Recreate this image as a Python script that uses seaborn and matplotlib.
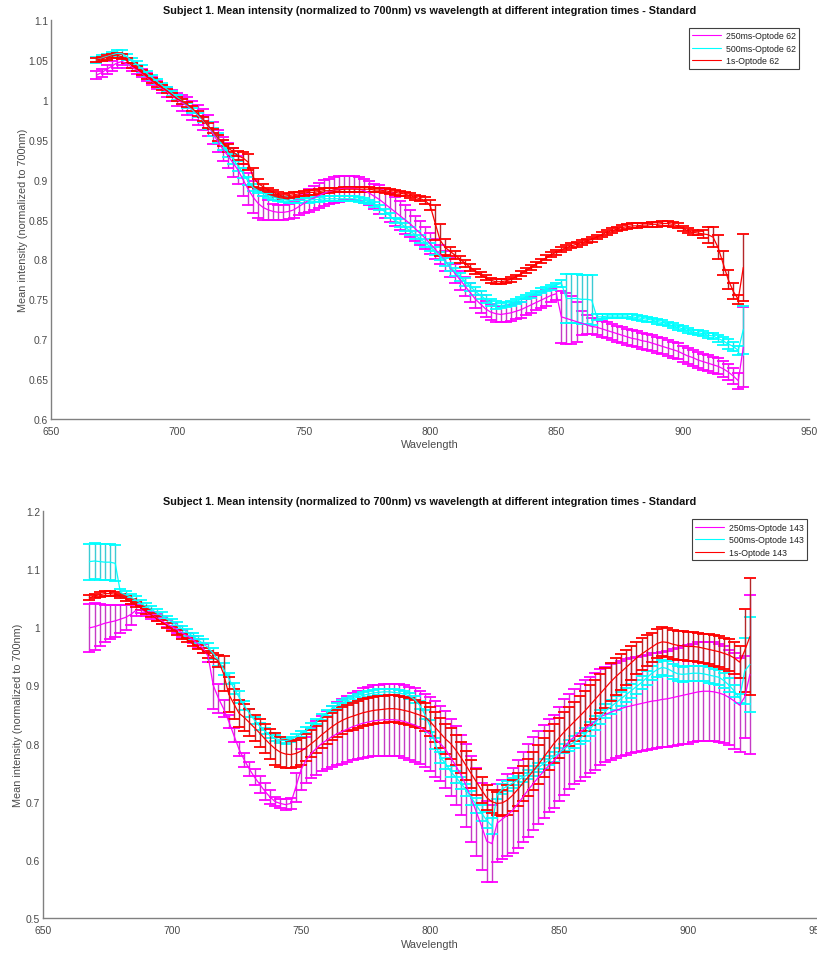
import numpy as np
import pandas as pd
import matplotlib
matplotlib.use("Agg")
import matplotlib.pyplot as plt
from matplotlib.ticker import FuncFormatter, MultipleLocator
from matplotlib.lines import Line2D
import seaborn as sns

# Spectrometer samples (nm), every 2 nm from 668 to 924
wavelength = np.arange(668, 925, 2)

series_keys = ["250ms", "500ms", "1s"]

# ---------------- Optode 62 ----------------
top_250ms_mean = [
    1.031, 1.034, 1.038, 1.042, 1.046, 1.048, 1.045, 1.041, 1.037, 1.033,
    1.028, 1.023, 1.018, 1.014, 1.010, 1.005, 1.000, 0.996, 0.992, 0.987,
    0.981, 0.975, 0.968, 0.958, 0.948, 0.938, 0.930, 0.921, 0.912, 0.900,
    0.888, 0.878, 0.870, 0.865, 0.862, 0.860, 0.859, 0.859, 0.860, 0.862,
    0.866, 0.870, 0.874, 0.877, 0.880, 0.883, 0.885, 0.887, 0.888, 0.889,
    0.889, 0.889, 0.888, 0.886, 0.883, 0.879, 0.875, 0.870, 0.865, 0.860,
    0.855, 0.850, 0.845, 0.839, 0.833, 0.827, 0.820, 0.813, 0.806, 0.798,
    0.790, 0.782, 0.774, 0.766, 0.758, 0.750, 0.744, 0.738, 0.734, 0.732,
    0.731, 0.732, 0.733, 0.735, 0.737, 0.740, 0.743, 0.746, 0.749, 0.752,
    0.755, 0.757, 0.728, 0.726, 0.724, 0.722, 0.720, 0.718, 0.716, 0.715,
    0.713, 0.711, 0.709, 0.707, 0.705, 0.703, 0.701, 0.700, 0.698, 0.697,
    0.695, 0.693, 0.691, 0.689, 0.687, 0.685, 0.682, 0.679, 0.677, 0.674,
    0.672, 0.670, 0.668, 0.666, 0.663, 0.659, 0.654, 0.648, 0.690,
]
top_250ms_err = [
    0.005, 0.005, 0.006, 0.006, 0.006, 0.005, 0.005, 0.005, 0.005, 0.005,
    0.005, 0.005, 0.005, 0.005, 0.006, 0.007, 0.008, 0.010, 0.011, 0.012,
    0.013, 0.013, 0.013, 0.014, 0.014, 0.015, 0.016, 0.018, 0.018, 0.020,
    0.020, 0.020, 0.018, 0.015, 0.012, 0.010, 0.009, 0.009, 0.009, 0.010,
    0.010, 0.012, 0.014, 0.015, 0.016, 0.016, 0.016, 0.016, 0.016, 0.015,
    0.015, 0.015, 0.015, 0.015, 0.015, 0.016, 0.018, 0.018, 0.018, 0.018,
    0.018, 0.018, 0.017, 0.016, 0.015, 0.014, 0.013, 0.012, 0.012, 0.012,
    0.012, 0.012, 0.012, 0.012, 0.012, 0.011, 0.011, 0.010, 0.010, 0.010,
    0.010, 0.010, 0.010, 0.010, 0.010, 0.010, 0.010, 0.010, 0.010, 0.010,
    0.008, 0.008, 0.033, 0.032, 0.030, 0.025, 0.015, 0.012, 0.010, 0.010,
    0.010, 0.010, 0.010, 0.010, 0.010, 0.010, 0.010, 0.010, 0.010, 0.010,
    0.010, 0.010, 0.010, 0.010, 0.010, 0.010, 0.010, 0.010, 0.010, 0.010,
    0.010, 0.010, 0.010, 0.010, 0.010, 0.010, 0.010, 0.010, 0.050,
]
top_500ms_mean = [
    1.050, 1.052, 1.054, 1.056, 1.058, 1.058, 1.054, 1.049, 1.044, 1.039,
    1.033, 1.028, 1.023, 1.018, 1.013, 1.008, 1.003, 0.998, 0.993, 0.987,
    0.981, 0.975, 0.968, 0.960, 0.952, 0.943, 0.934, 0.926, 0.917, 0.908,
    0.898, 0.890, 0.886, 0.883, 0.880, 0.878, 0.876, 0.875, 0.874, 0.874,
    0.874, 0.874, 0.874, 0.875, 0.875, 0.876, 0.876, 0.876, 0.876, 0.876,
    0.876, 0.876, 0.875, 0.874, 0.872, 0.869, 0.865, 0.860, 0.855, 0.849,
    0.846, 0.841, 0.836, 0.831, 0.826, 0.821, 0.816, 0.810, 0.804, 0.797,
    0.791, 0.784, 0.778, 0.772, 0.766, 0.760, 0.755, 0.750, 0.746, 0.743,
    0.742, 0.743, 0.745, 0.747, 0.750, 0.753, 0.755, 0.758, 0.761, 0.763,
    0.765, 0.768, 0.770, 0.751, 0.751, 0.751, 0.750, 0.750, 0.749, 0.728,
    0.728, 0.729, 0.729, 0.729, 0.729, 0.729, 0.728, 0.727, 0.726, 0.725,
    0.724, 0.722, 0.721, 0.719, 0.717, 0.715, 0.713, 0.711, 0.709, 0.708,
    0.707, 0.705, 0.704, 0.701, 0.698, 0.694, 0.691, 0.686, 0.712,
]
top_500ms_err = [
    0.004, 0.004, 0.004, 0.004, 0.004, 0.004, 0.004, 0.004, 0.004, 0.004,
    0.003, 0.003, 0.003, 0.003, 0.003, 0.003, 0.003, 0.003, 0.003, 0.003,
    0.003, 0.003, 0.004, 0.005, 0.006, 0.006, 0.006, 0.006, 0.006, 0.006,
    0.005, 0.004, 0.003, 0.003, 0.003, 0.003, 0.003, 0.003, 0.003, 0.003,
    0.003, 0.003, 0.003, 0.003, 0.003, 0.003, 0.003, 0.003, 0.003, 0.003,
    0.003, 0.003, 0.003, 0.003, 0.003, 0.003, 0.003, 0.003, 0.003, 0.003,
    0.005, 0.005, 0.005, 0.005, 0.005, 0.005, 0.005, 0.005, 0.005, 0.005,
    0.005, 0.005, 0.005, 0.005, 0.005, 0.005, 0.005, 0.005, 0.005, 0.005,
    0.003, 0.003, 0.003, 0.003, 0.003, 0.003, 0.003, 0.003, 0.003, 0.003,
    0.003, 0.003, 0.004, 0.031, 0.031, 0.031, 0.031, 0.031, 0.031, 0.004,
    0.003, 0.003, 0.003, 0.003, 0.003, 0.003, 0.003, 0.003, 0.003, 0.003,
    0.003, 0.003, 0.003, 0.003, 0.003, 0.003, 0.003, 0.003, 0.003, 0.003,
    0.003, 0.003, 0.004, 0.004, 0.005, 0.006, 0.006, 0.006, 0.030,
]
top_1s_mean = [
    1.050, 1.051, 1.053, 1.055, 1.056, 1.054, 1.049, 1.043, 1.039, 1.034,
    1.029, 1.024, 1.019, 1.015, 1.011, 1.006, 1.001, 0.998, 0.994, 0.989,
    0.983, 0.976, 0.968, 0.961, 0.952, 0.946, 0.940, 0.935, 0.930, 0.927,
    0.922, 0.903, 0.895, 0.891, 0.887, 0.884, 0.881, 0.879, 0.880, 0.881,
    0.882, 0.883, 0.884, 0.884, 0.885, 0.886, 0.886, 0.887, 0.887, 0.888,
    0.888, 0.888, 0.888, 0.888, 0.888, 0.887, 0.887, 0.886, 0.885, 0.884,
    0.883, 0.882, 0.880, 0.878, 0.876, 0.874, 0.868, 0.846, 0.824, 0.815,
    0.810, 0.805, 0.800, 0.795, 0.790, 0.785, 0.781, 0.777, 0.774, 0.772,
    0.772, 0.773, 0.775, 0.778, 0.782, 0.786, 0.790, 0.794, 0.798, 0.802,
    0.806, 0.809, 0.812, 0.815, 0.817, 0.819, 0.821, 0.823, 0.825, 0.828,
    0.831, 0.834, 0.836, 0.838, 0.840, 0.841, 0.842, 0.842, 0.843, 0.843,
    0.844, 0.844, 0.845, 0.845, 0.844, 0.842, 0.839, 0.836, 0.834, 0.833,
    0.832, 0.831, 0.828, 0.815, 0.795, 0.775, 0.760, 0.750, 0.790,
]
top_1s_err = [
    0.003, 0.003, 0.003, 0.003, 0.003, 0.003, 0.003, 0.003, 0.003, 0.003,
    0.003, 0.003, 0.003, 0.003, 0.003, 0.003, 0.003, 0.003, 0.003, 0.003,
    0.003, 0.003, 0.003, 0.003, 0.004, 0.004, 0.005, 0.005, 0.006, 0.007,
    0.010, 0.012, 0.006, 0.004, 0.003, 0.003, 0.003, 0.003, 0.003, 0.003,
    0.003, 0.003, 0.003, 0.003, 0.003, 0.003, 0.003, 0.003, 0.003, 0.003,
    0.003, 0.003, 0.003, 0.003, 0.003, 0.003, 0.003, 0.003, 0.003, 0.003,
    0.003, 0.003, 0.003, 0.003, 0.003, 0.004, 0.006, 0.022, 0.020, 0.010,
    0.006, 0.005, 0.004, 0.004, 0.004, 0.003, 0.003, 0.003, 0.003, 0.003,
    0.003, 0.003, 0.003, 0.003, 0.003, 0.003, 0.003, 0.003, 0.003, 0.003,
    0.003, 0.003, 0.003, 0.003, 0.003, 0.003, 0.003, 0.003, 0.003, 0.003,
    0.003, 0.003, 0.003, 0.003, 0.003, 0.003, 0.003, 0.003, 0.003, 0.003,
    0.003, 0.003, 0.003, 0.003, 0.003, 0.003, 0.003, 0.003, 0.003, 0.003,
    0.005, 0.010, 0.012, 0.015, 0.015, 0.012, 0.010, 0.006, 0.042,
]

# ---------------- Optode 143 ----------------
bot_250ms_mean = [
    0.999, 1.001, 1.004, 1.007, 1.009, 1.011, 1.014, 1.017, 1.022, 1.029,
    1.030, 1.026, 1.021, 1.016, 1.011, 1.006, 1.001, 0.996, 0.990, 0.985,
    0.979, 0.972, 0.964, 0.950, 0.900, 0.878, 0.860, 0.838, 0.814, 0.790,
    0.772, 0.756, 0.742, 0.730, 0.718, 0.708, 0.700, 0.697, 0.695, 0.697,
    0.725, 0.755, 0.772, 0.783, 0.792, 0.800, 0.806, 0.812, 0.817, 0.821,
    0.825, 0.829, 0.832, 0.835, 0.837, 0.839, 0.840, 0.841, 0.841, 0.841,
    0.840, 0.838, 0.835, 0.832, 0.828, 0.823, 0.816, 0.808, 0.800, 0.790,
    0.776, 0.762, 0.746, 0.728, 0.705, 0.682, 0.658, 0.632, 0.628, 0.663,
    0.670, 0.677, 0.685, 0.696, 0.708, 0.720, 0.731, 0.742, 0.752, 0.762,
    0.770, 0.782, 0.794, 0.804, 0.812, 0.819, 0.826, 0.832, 0.838, 0.846,
    0.850, 0.854, 0.857, 0.860, 0.863, 0.865, 0.867, 0.869, 0.871, 0.873,
    0.874, 0.876, 0.877, 0.879, 0.881, 0.883, 0.885, 0.887, 0.889, 0.890,
    0.890, 0.889, 0.887, 0.884, 0.879, 0.873, 0.866, 0.880, 0.919,
]
bot_250ms_err = [
    0.041, 0.040, 0.036, 0.032, 0.030, 0.028, 0.024, 0.021, 0.018, 0.010,
    0.006, 0.006, 0.006, 0.006, 0.006, 0.006, 0.006, 0.006, 0.006, 0.006,
    0.006, 0.007, 0.008, 0.010, 0.040, 0.025, 0.015, 0.012, 0.012, 0.012,
    0.012, 0.012, 0.014, 0.015, 0.015, 0.012, 0.008, 0.008, 0.010, 0.010,
    0.025, 0.035, 0.040, 0.043, 0.046, 0.048, 0.050, 0.052, 0.054, 0.056,
    0.057, 0.058, 0.059, 0.060, 0.060, 0.061, 0.061, 0.062, 0.062, 0.062,
    0.062, 0.062, 0.063, 0.063, 0.063, 0.063, 0.064, 0.065, 0.065, 0.066,
    0.067, 0.068, 0.069, 0.072, 0.074, 0.076, 0.075, 0.070, 0.066, 0.067,
    0.068, 0.070, 0.073, 0.076, 0.078, 0.080, 0.080, 0.080, 0.080, 0.080,
    0.080, 0.081, 0.082, 0.082, 0.082, 0.083, 0.083, 0.083, 0.083, 0.082,
    0.082, 0.082, 0.082, 0.082, 0.082, 0.082, 0.082, 0.082, 0.082, 0.082,
    0.082, 0.082, 0.083, 0.083, 0.084, 0.084, 0.085, 0.085, 0.085, 0.085,
    0.085, 0.085, 0.084, 0.083, 0.082, 0.082, 0.081, 0.071, 0.137,
]
bot_500ms_mean = [
    1.113, 1.114, 1.113, 1.112, 1.112, 1.110, 1.060, 1.056, 1.052, 1.047,
    1.041, 1.036, 1.031, 1.025, 1.020, 1.014, 1.009, 1.003, 0.997, 0.991,
    0.985, 0.979, 0.972, 0.965, 0.955, 0.943, 0.928, 0.912, 0.895, 0.880,
    0.865, 0.852, 0.840, 0.830, 0.821, 0.814, 0.809, 0.806, 0.805, 0.807,
    0.811, 0.817, 0.823, 0.830, 0.838, 0.846, 0.853, 0.860, 0.865, 0.870,
    0.874, 0.877, 0.880, 0.883, 0.885, 0.887, 0.888, 0.889, 0.889, 0.888,
    0.887, 0.885, 0.882, 0.876, 0.866, 0.850, 0.830, 0.800, 0.776, 0.766,
    0.752, 0.742, 0.732, 0.720, 0.707, 0.694, 0.680, 0.668, 0.658, 0.712,
    0.722, 0.727, 0.732, 0.737, 0.742, 0.747, 0.753, 0.759, 0.765, 0.771,
    0.777, 0.784, 0.791, 0.797, 0.803, 0.809, 0.816, 0.825, 0.835, 0.846,
    0.856, 0.863, 0.870, 0.877, 0.884, 0.891, 0.898, 0.905, 0.913, 0.921,
    0.927, 0.931, 0.929, 0.924, 0.920, 0.919, 0.920, 0.921, 0.921, 0.920,
    0.918, 0.916, 0.914, 0.908, 0.900, 0.890, 0.878, 0.925, 0.936,
]
bot_500ms_err = [
    0.031, 0.031, 0.031, 0.031, 0.031, 0.031, 0.006, 0.006, 0.006, 0.006,
    0.006, 0.006, 0.006, 0.006, 0.006, 0.006, 0.006, 0.006, 0.006, 0.006,
    0.006, 0.006, 0.007, 0.008, 0.009, 0.010, 0.010, 0.010, 0.010, 0.010,
    0.008, 0.007, 0.006, 0.006, 0.005, 0.005, 0.005, 0.005, 0.005, 0.005,
    0.005, 0.005, 0.005, 0.005, 0.005, 0.005, 0.005, 0.005, 0.005, 0.005,
    0.005, 0.005, 0.005, 0.005, 0.005, 0.005, 0.005, 0.005, 0.005, 0.005,
    0.005, 0.005, 0.005, 0.006, 0.007, 0.008, 0.010, 0.010, 0.010, 0.010,
    0.010, 0.010, 0.010, 0.011, 0.012, 0.013, 0.014, 0.014, 0.014, 0.008,
    0.008, 0.008, 0.008, 0.008, 0.008, 0.008, 0.008, 0.008, 0.008, 0.008,
    0.008, 0.008, 0.008, 0.009, 0.010, 0.010, 0.011, 0.012, 0.012, 0.012,
    0.012, 0.012, 0.012, 0.012, 0.012, 0.012, 0.012, 0.012, 0.012, 0.012,
    0.013, 0.013, 0.013, 0.013, 0.013, 0.013, 0.013, 0.013, 0.013, 0.013,
    0.013, 0.013, 0.013, 0.013, 0.012, 0.010, 0.008, 0.057, 0.081,
]
bot_1s_mean = [
    1.051, 1.054, 1.056, 1.058, 1.058, 1.057, 1.054, 1.050, 1.044, 1.039,
    1.033, 1.027, 1.021, 1.015, 1.009, 1.003, 0.997, 0.991, 0.984, 0.978,
    0.972, 0.966, 0.960, 0.954, 0.948, 0.942, 0.920, 0.885, 0.868, 0.852,
    0.845, 0.836, 0.827, 0.818, 0.808, 0.799, 0.791, 0.785, 0.782, 0.781,
    0.783, 0.787, 0.793, 0.800, 0.807, 0.815, 0.822, 0.829, 0.835, 0.840,
    0.844, 0.847, 0.850, 0.853, 0.855, 0.857, 0.858, 0.859, 0.860, 0.860,
    0.859, 0.857, 0.855, 0.852, 0.849, 0.846, 0.838, 0.828, 0.818, 0.808,
    0.800, 0.789, 0.776, 0.762, 0.748, 0.734, 0.720, 0.707, 0.700, 0.697,
    0.698, 0.703, 0.711, 0.721, 0.732, 0.742, 0.753, 0.764, 0.776, 0.788,
    0.800, 0.810, 0.820, 0.829, 0.838, 0.847, 0.856, 0.866, 0.876, 0.886,
    0.896, 0.906, 0.915, 0.923, 0.931, 0.939, 0.947, 0.954, 0.960, 0.966,
    0.972, 0.975, 0.974, 0.971, 0.969, 0.968, 0.967, 0.967, 0.966, 0.964,
    0.962, 0.960, 0.958, 0.955, 0.952, 0.947, 0.940, 0.960, 0.984,
]
bot_1s_err = [
    0.004, 0.004, 0.004, 0.004, 0.004, 0.004, 0.004, 0.004, 0.004, 0.004,
    0.004, 0.004, 0.004, 0.004, 0.004, 0.004, 0.004, 0.004, 0.004, 0.004,
    0.004, 0.004, 0.005, 0.006, 0.008, 0.010, 0.030, 0.030, 0.025, 0.023,
    0.023, 0.023, 0.023, 0.024, 0.025, 0.026, 0.027, 0.026, 0.024, 0.023,
    0.023, 0.023, 0.023, 0.023, 0.023, 0.023, 0.023, 0.023, 0.023, 0.023,
    0.023, 0.023, 0.023, 0.023, 0.023, 0.023, 0.023, 0.023, 0.023, 0.023,
    0.023, 0.023, 0.023, 0.023, 0.023, 0.024, 0.025, 0.026, 0.026, 0.026,
    0.026, 0.026, 0.026, 0.025, 0.024, 0.023, 0.022, 0.021, 0.020, 0.020,
    0.022, 0.025, 0.027, 0.029, 0.030, 0.032, 0.033, 0.033, 0.033, 0.034,
    0.034, 0.034, 0.034, 0.034, 0.034, 0.034, 0.034, 0.034, 0.034, 0.034,
    0.034, 0.033, 0.032, 0.031, 0.030, 0.029, 0.028, 0.027, 0.026, 0.025,
    0.025, 0.025, 0.025, 0.025, 0.025, 0.025, 0.025, 0.025, 0.025, 0.025,
    0.026, 0.026, 0.027, 0.027, 0.027, 0.027, 0.027, 0.072, 0.101,
]

title_text = ("Subject 1. Mean intensity (normalized to 700nm) vs wavelength "
              "at different integration times - Standard")
x_label = "Wavelength"
y_label = "Mean intensity (normalized to 700nm)"

# line colour for means/caps, slightly deeper tone for the vertical bars
line_colors = {"250ms": "#ff00ff", "500ms": "#00ffff", "1s": "#ff0000"}
bar_colors = {"250ms": "#c43cc4", "500ms": "#3ccbd4", "1s": "#b4282a"}

sns.set_style("white")
plt.rcParams["font.family"] = ["Liberation Sans", "DejaVu Sans"]

fig = plt.figure(figsize=(8.17, 9.54), dpi=100)
ax_top = fig.add_axes([51 / 817, 1 - 420 / 954, 758 / 817, 399 / 954])
ax_bot = fig.add_axes([43 / 817, 1 - 919 / 954, 774 / 817, 407 / 954])

axis_gray = "#808080"
text_gray = "#4a4a4a"


def draw_panel(ax, optode, data, ylim, ystep, ylab_x, xlab_y):
    for key, mean, err in data:
        mean = np.asarray(mean)
        err = np.asarray(err)
        eb = ax.errorbar(wavelength, mean, yerr=err, fmt="none",
                         ecolor=bar_colors[key], elinewidth=1.0,
                         capsize=4.5, capthick=1.3, zorder=2)
        for cap in eb[1]:
            cap.set_color(line_colors[key])
            cap.set_markeredgecolor(line_colors[key])
            cap.set_markerfacecolor(line_colors[key])
        frame = pd.DataFrame({"wavelength": wavelength, "intensity": mean})
        sns.lineplot(data=frame, x="wavelength", y="intensity", ax=ax,
                     color=line_colors[key], linewidth=0.9, estimator=None,
                     errorbar=None, sort=False, legend=False, zorder=3)

    ax.set_xlim(650, 950)
    ax.set_ylim(*ylim)
    ax.xaxis.set_major_locator(MultipleLocator(50))
    ax.yaxis.set_major_locator(MultipleLocator(ystep))
    ax.yaxis.set_major_formatter(FuncFormatter(lambda v, _: f"{round(v, 3):g}"))

    for side in ("top", "right"):
        ax.spines[side].set_visible(False)
    for side in ("left", "bottom"):
        ax.spines[side].set_color(axis_gray)
        ax.spines[side].set_linewidth(1.0)
    ax.tick_params(direction="in", length=5, width=0.8, color=axis_gray,
                   labelcolor=text_gray, labelsize=7.4)
    ax.tick_params(axis="x", pad=5)
    ax.tick_params(axis="y", pad=2)

    ax.set_title(title_text, fontsize=7.8, fontweight="bold", pad=5,
                 color="#111111")
    ax.set_xlabel(x_label, fontsize=7.8, color=text_gray)
    ax.set_ylabel(y_label, fontsize=7.8, color=text_gray)
    ax.xaxis.set_label_coords(0.5, xlab_y)
    ax.yaxis.set_label_coords(ylab_x, 0.5)

    handles = [Line2D([0], [0], color=line_colors[k], linewidth=0.8)
               for k in series_keys]
    labels = [f"{k}-Optode {optode}" for k in series_keys]
    leg = ax.legend(handles, labels, loc="upper right",
                    bbox_to_anchor=(0.987, 0.980), fontsize=6.3,
                    frameon=True, fancybox=False, framealpha=1,
                    edgecolor="#404040", handlelength=3.3,
                    handletextpad=0.5, borderpad=0.4, labelspacing=0.4,
                    borderaxespad=0)
    leg.get_frame().set_linewidth(0.8)
    for t in leg.get_texts():
        t.set_color("#222222")


draw_panel(ax_top, 62,
           [("250ms", top_250ms_mean, top_250ms_err),
            ("500ms", top_500ms_mean, top_500ms_err),
            ("1s", top_1s_mean, top_1s_err)],
           (0.6, 1.1), 0.05, -0.030, -0.05)
draw_panel(ax_bot, 143,
           [("250ms", bot_250ms_mean, bot_250ms_err),
            ("500ms", bot_500ms_mean, bot_500ms_err),
            ("1s", bot_1s_mean, bot_1s_err)],
           (0.5, 1.2), 0.1, -0.026, -0.052)

fig.savefig("out.png", dpi=100)
